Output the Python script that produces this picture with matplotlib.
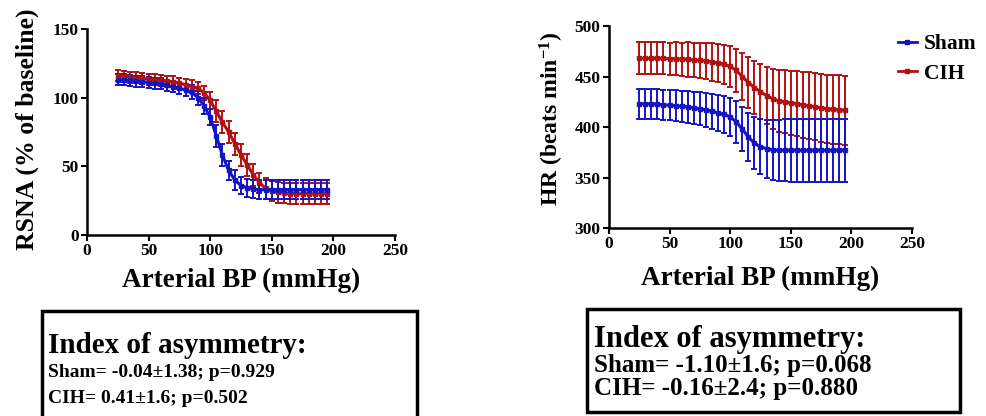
import matplotlib
matplotlib.use("Agg")
import matplotlib.pyplot as plt
from matplotlib.patches import Rectangle
from matplotlib.lines import Line2D

plt.rcParams["font.family"] = ["Liberation Serif", "DejaVu Serif"]
plt.rcParams["font.weight"] = "bold"
plt.rcParams["mathtext.fontset"] = "custom"
plt.rcParams["mathtext.rm"] = "Liberation Serif:bold"
plt.rcParams["mathtext.default"] = "rm"

BLUE = "#1414c4"
RED = "#b01212"

# arterial pressure steps (mmHg)
bp = list(range(25, 200, 5))

# RSNA (% of baseline)
rsna_sham = [113, 113, 112.5, 112, 111.5, 111, 110.5, 110, 109, 108, 107, 105.5,
             104, 100, 94, 86, 72, 58, 47, 40, 36, 34.5, 33.5, 33, 33, 33, 33,
             33, 33, 33, 33, 33, 33, 33, 33]
rsna_sham_err = [4, 4, 4, 4, 4, 4, 4, 4, 4, 4, 4.5, 4.5, 5, 5, 6, 6, 8, 8, 7,
                 7, 6.5, 6.5, 6.5, 7, 7, 7, 7, 7, 7, 7, 7, 7, 7, 7, 7]
rsna_cih = [116, 115.5, 115, 114.5, 114, 113.5, 113, 112.5, 112, 111.5, 110.5,
            109.5, 108, 107, 103.5, 98, 90, 82, 75, 66.5, 58.5, 51, 44, 38, 34,
            32, 31, 30.5, 30, 30, 30, 30, 30, 30, 30]
rsna_cih_err = [4, 4, 4, 4, 4, 4, 4, 4, 4, 4, 4, 4, 4.5, 4.5, 5, 6, 8, 8, 8, 8,
                8, 8, 8, 7.5, 7.5, 7.5, 7.5, 7.5, 7.5, 7.5, 7.5, 7.5, 7.5, 7.5, 7.5]

# HR (beats min-1)
hr_sham = [423, 423, 423, 422.5, 422, 421.5, 421, 420.5, 420, 419, 418, 417,
           415.5, 414, 412.5, 410, 405, 398, 390, 384, 380.5, 378.5, 377.5, 377,
           377, 377, 377, 377, 377, 377, 377, 377, 377, 377, 377]
hr_sham_err = [15, 15, 15, 15, 15, 15, 15.5, 15.5, 16, 16, 16.5, 17, 17.5, 18,
               18.5, 19, 20.5, 22, 24, 26, 27.5, 28.5, 29.5, 30, 30.5, 31, 31,
               31, 31, 31, 31, 31, 31, 31, 31]
hr_cih = [468, 468, 468, 468, 468, 467.5, 467.5, 467, 467, 466.5, 466, 465.5,
          464.5, 463.5, 462, 460, 456, 450, 444, 439, 435, 431, 428, 426, 425,
          424, 423, 422, 421, 420, 419, 418, 417.5, 417, 416.5]
hr_cih_err = [16, 16, 16, 16, 16, 16, 16.5, 16.5, 17, 17, 17.5, 18, 18.5, 19,
              19.5, 20, 21.5, 23, 25, 26.5, 27.5, 28.5, 29.5, 30.5, 31, 31.5,
              32, 32.5, 33, 33, 33.5, 33.5, 34, 34, 34]

groups = ["Sham", "CIH"]
index_text_left = ["Index of asymmetry:", "Sham= -0.04\u00b11.38; p=0.929",
                   "CIH= 0.41\u00b11.6; p=0.502"]
index_text_right = ["Index of asymmetry:", "Sham= -1.10\u00b11.6; p=0.068",
                    "CIH= -0.16\u00b12.4; p=0.880"]


def draw_panel(ax, y_sham, e_sham, y_cih, e_cih, xpad):
    kw = dict(marker="s", markersize=3, linewidth=2.2, elinewidth=1.4,
              capsize=2.5, capthick=1.4)
    ax.errorbar(bp, y_cih, yerr=e_cih, color=RED, **kw)
    ax.errorbar(bp, y_sham, yerr=e_sham, color=BLUE, **kw)
    ax.set_xlim(0, 250)
    ax.set_xticks([0, 50, 100, 150, 200, 250])
    for side in ["top", "right"]:
        ax.spines[side].set_visible(False)
    for side in ["left", "bottom"]:
        ax.spines[side].set_linewidth(1.8)
    ax.tick_params(width=1.5, length=4, labelsize=12.5, pad=2)
    ax.set_xlabel("Arterial BP (mmHg)", fontsize=19.5, fontweight="bold",
                  labelpad=xpad)


fig = plt.figure(figsize=(9.86, 4.16), dpi=100)

ax1 = fig.add_axes([0.0882, 0.4351, 0.3124, 0.4952])
draw_panel(ax1, rsna_sham, rsna_sham_err, rsna_cih, rsna_cih_err, 6)
ax1.set_ylim(0, 150)
ax1.set_yticks([0, 50, 100, 150])
ax1.set_ylabel("RSNA (% of baseline)", fontsize=18.5, fontweight="bold")
ax1.yaxis.set_label_coords(-0.156, 0.515)

ax2 = fig.add_axes([0.6176, 0.4519, 0.3073, 0.4856])
draw_panel(ax2, hr_sham, hr_sham_err, hr_cih, hr_cih_err, 10)
ax2.set_ylim(300, 500)
ax2.set_yticks([300, 350, 400, 450, 500])
ax2.set_ylabel("HR (beats min$^{-1}$)", fontsize=17, fontweight="bold")
ax2.yaxis.set_label_coords(-0.142, 0.54)

handles = [Line2D([], [], color=BLUE, lw=2, marker="s", markersize=3),
           Line2D([], [], color=RED, lw=2, marker="s", markersize=3)]
fig.legend(handles, groups, loc="upper left", bbox_to_anchor=(0.911, 0.918),
           frameon=False, handlelength=0.85, handletextpad=0.35,
           labelspacing=0.45, borderpad=0, borderaxespad=0,
           prop={"size": 15.5, "weight": "bold"})

# text boxes under the panels
fig.patches.append(Rectangle((42 / 986, -0.05), (417 - 42) / 986, 1.05 - 311 / 416,
                             transform=fig.transFigure, fill=False, lw=2.5,
                             edgecolor="black"))
fig.patches.append(Rectangle((587 / 986, 1 - 412 / 416), (960 - 587) / 986,
                             (412 - 309) / 416, transform=fig.transFigure,
                             fill=False, lw=2.5, edgecolor="black"))

fig.text(48 / 986, 1 - 353 / 416, index_text_left[0], fontsize=21, fontweight="bold")
fig.text(48 / 986, 1 - 377 / 416, index_text_left[1], fontsize=14, fontweight="bold")
fig.text(48 / 986, 1 - 403 / 416, index_text_left[2], fontsize=14, fontweight="bold")

fig.text(594 / 986, 1 - 347 / 416, index_text_right[0], fontsize=22, fontweight="bold")
fig.text(594 / 986, 1 - 372 / 416, index_text_right[1], fontsize=18, fontweight="bold")
fig.text(594 / 986, 1 - 395 / 416, index_text_right[2], fontsize=18, fontweight="bold")

fig.savefig("out.png", dpi=100)
